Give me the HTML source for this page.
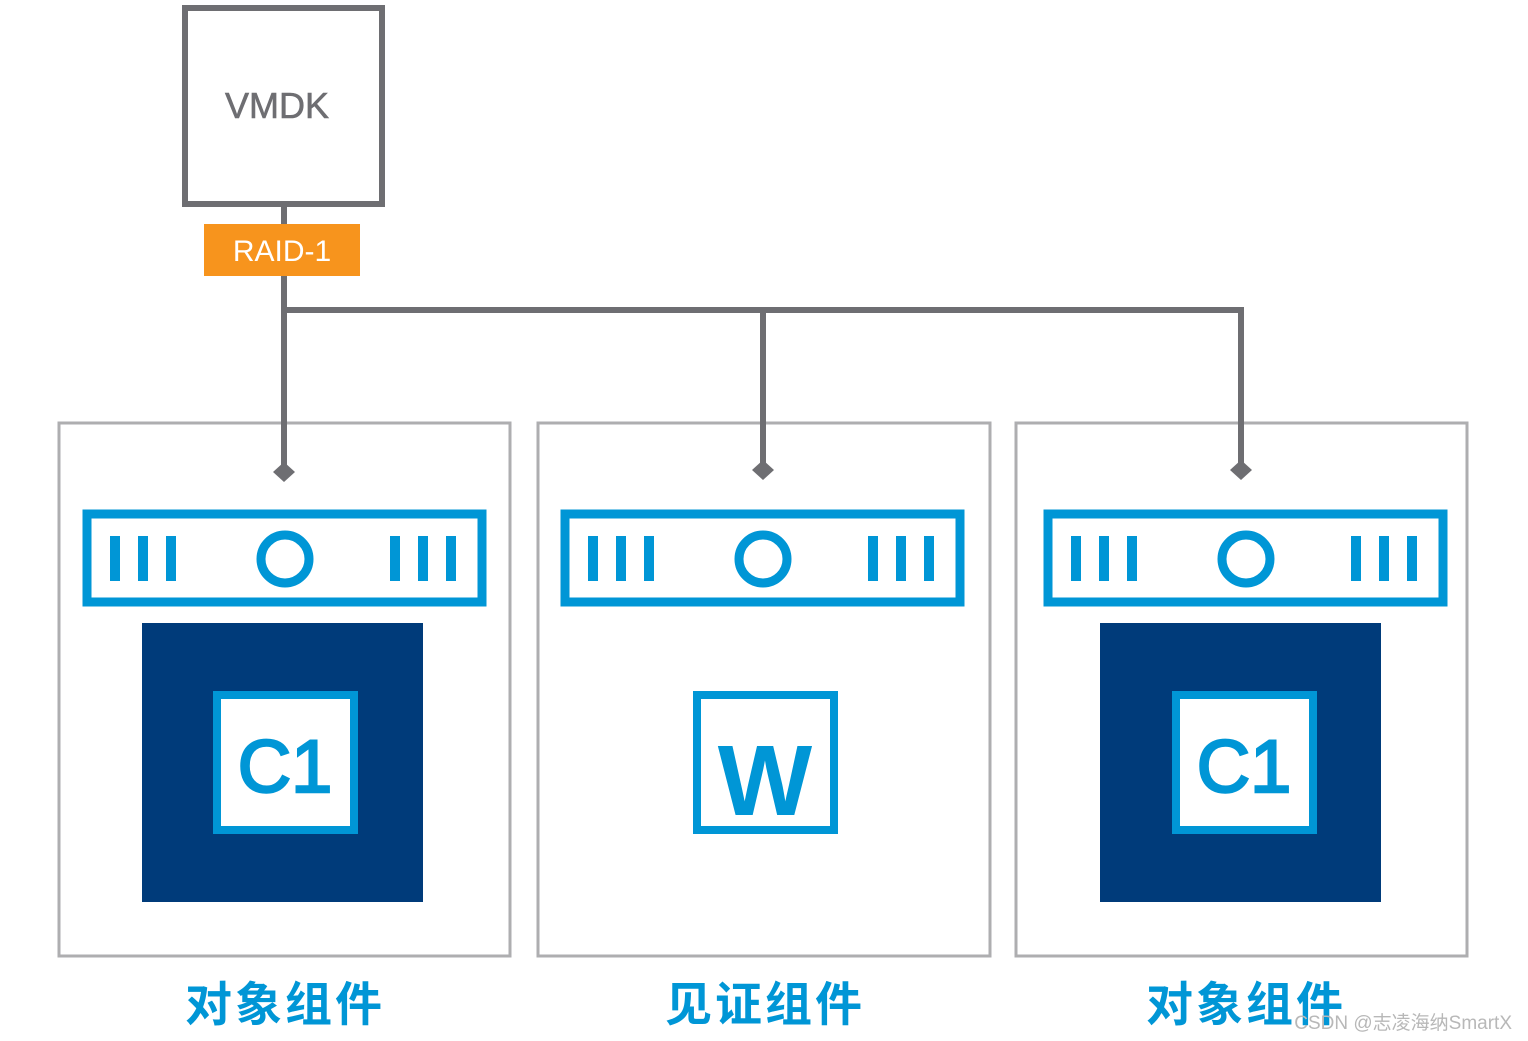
<!DOCTYPE html>
<html><head><meta charset="utf-8"><style>
html,body{margin:0;padding:0;background:#fff;}
svg{display:block;}
</style></head><body>
<svg width="1528" height="1041" viewBox="0 0 1528 1041" xmlns="http://www.w3.org/2000/svg">
<rect width="1528" height="1041" fill="#fff"/>
<rect x="59" y="423" width="451" height="533" fill="#fff" stroke="#aeaeb0" stroke-width="3"/>
<rect x="538" y="423" width="452" height="533" fill="#fff" stroke="#aeaeb0" stroke-width="3"/>
<rect x="1016" y="423" width="451" height="533" fill="#fff" stroke="#aeaeb0" stroke-width="3"/>
<g stroke="#6e6e72" stroke-width="6" fill="none">
<line x1="284" y1="206" x2="284" y2="470"/>
<polyline points="284,310 1241,310 1241,466"/>
<line x1="763" y1="310" x2="763" y2="466"/>
</g>
<g fill="#6e6e72">
<polygon points="284,462 295,472 284,482 273,472"/>
<polygon points="763,460 774,470 763,480 752,470"/>
<polygon points="1241,460 1252,470 1241,480 1230,470"/>
</g>
<rect x="185" y="8" width="197" height="196" fill="#fff" stroke="#6e6e72" stroke-width="6"/>
<text x="277" y="118" text-anchor="middle" font-family="Liberation Sans, sans-serif" font-size="36" fill="#6e6e72" stroke="#6e6e72" stroke-width="0.6">VMDK</text>
<rect x="204" y="224" width="156" height="52" fill="#f7941d"/>
<text x="282" y="261" text-anchor="middle" font-family="Liberation Sans, sans-serif" font-size="30" fill="#fff">RAID-1</text>
<g>
<rect x="87" y="514" width="395" height="88" fill="none" stroke="#0096d6" stroke-width="9"/>
<g fill="#0096d6">
<rect x="110" y="536" width="10" height="45"/><rect x="138" y="536" width="10" height="45"/><rect x="166" y="536" width="10" height="45"/>
<rect x="390" y="536" width="10" height="45"/><rect x="418" y="536" width="10" height="45"/><rect x="446" y="536" width="10" height="45"/>
</g>
<circle cx="285" cy="559" r="24" fill="none" stroke="#0096d6" stroke-width="9"/>
</g>
<g transform="translate(478,0)">
<rect x="87" y="514" width="395" height="88" fill="none" stroke="#0096d6" stroke-width="9"/>
<g fill="#0096d6">
<rect x="110" y="536" width="10" height="45"/><rect x="138" y="536" width="10" height="45"/><rect x="166" y="536" width="10" height="45"/>
<rect x="390" y="536" width="10" height="45"/><rect x="418" y="536" width="10" height="45"/><rect x="446" y="536" width="10" height="45"/>
</g>
<circle cx="285" cy="559" r="24" fill="none" stroke="#0096d6" stroke-width="9"/>
</g>
<g transform="translate(961,0)">
<rect x="87" y="514" width="395" height="88" fill="none" stroke="#0096d6" stroke-width="9"/>
<g fill="#0096d6">
<rect x="110" y="536" width="10" height="45"/><rect x="138" y="536" width="10" height="45"/><rect x="166" y="536" width="10" height="45"/>
<rect x="390" y="536" width="10" height="45"/><rect x="418" y="536" width="10" height="45"/><rect x="446" y="536" width="10" height="45"/>
</g>
<circle cx="285" cy="559" r="24" fill="none" stroke="#0096d6" stroke-width="9"/>
</g>
<rect x="142" y="623" width="281" height="279" fill="#003b7a"/>
<rect x="1100" y="623" width="281" height="279" fill="#003b7a"/>
<rect x="217" y="695" width="137" height="135" fill="#fff" stroke="#0096d6" stroke-width="8"/>
<rect x="1176" y="695" width="137" height="135" fill="#fff" stroke="#0096d6" stroke-width="8"/>
<rect x="697" y="695" width="137" height="135" fill="#fff" stroke="#0096d6" stroke-width="8"/>
<text x="285" y="792" text-anchor="middle" font-family="Liberation Sans, sans-serif" font-size="74" fill="#0096d6" stroke="#0096d6" stroke-width="2.5">C1</text>
<text x="1244" y="792" text-anchor="middle" font-family="Liberation Sans, sans-serif" font-size="74" fill="#0096d6" stroke="#0096d6" stroke-width="2.5">C1</text>
<text x="765" y="815" text-anchor="middle" font-family="Liberation Sans, sans-serif" font-weight="bold" font-size="100" fill="#0096d6">W</text>
<g font-family="Liberation Sans, Noto Sans CJK SC, sans-serif" font-size="47" font-weight="bold" fill="#0096d6" text-anchor="middle" letter-spacing="3">
<text x="285" y="1021">对象组件</text>
<text x="765" y="1021">见证组件</text>
<text x="1246" y="1021">对象组件</text>
</g>
<text x="1512" y="1029" text-anchor="end" font-family="Liberation Sans, Noto Sans CJK SC, sans-serif" font-size="19" fill="#b8b8b8">CSDN @志凌海纳SmartX</text>
</svg>
</body></html>
